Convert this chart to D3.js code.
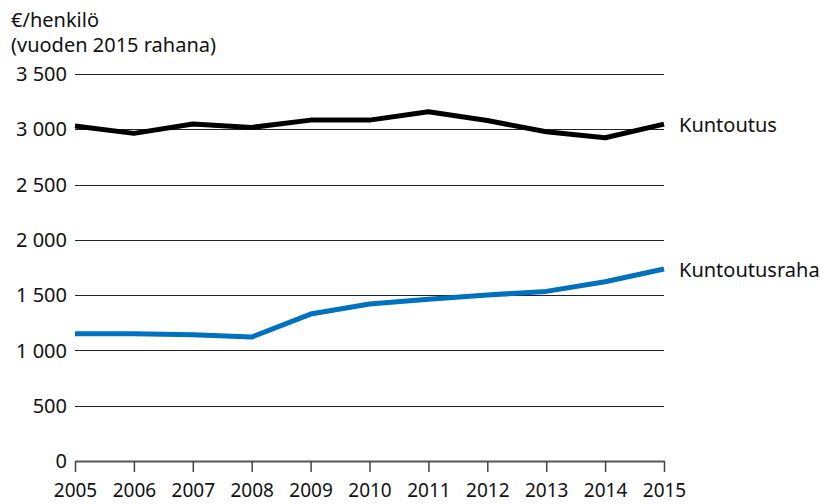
<!DOCTYPE html>
<html>
<head>
<meta charset="utf-8">
<script src="https://cdn.jsdelivr.net/npm/d3@7"></script>
<style>
  body { margin: 0; background: #fff; }
  text { font-family: "Noto Sans", "Open Sans", sans-serif; fill: #111; }
</style>
</head>
<body>
<div id="chart"></div>
<script>
// data
const years = [2005, 2006, 2007, 2008, 2009, 2010, 2011, 2012, 2013, 2014, 2015];
const kuntoutus = [3030, 2963, 3047, 3017, 3083, 3083, 3158, 3080, 2977, 2923, 3047];
const kuntoutusraha = [1151, 1151, 1142, 1121, 1329, 1420, 1462, 1501, 1534, 1621, 1736];
const yTicks = [0, 500, 1000, 1500, 2000, 2500, 3000, 3500];
const titleLines = ["€/henkilö", "(vuoden 2015 rahana)"];

const size = { width: 821, height: 504 };
const margin = { left: 75, right: 157, top: 74, bottom: 43 };

const svg = d3.select("#chart").append("svg")
  .attr("width", size.width)
  .attr("height", size.height);

//scales
const x = d3.scaleLinear()
  .domain([2005, 2015])
  .range([margin.left, size.width - margin.right]);

const y = d3.scaleLinear()
  .domain([0, 3500])
  .range([size.height - margin.bottom, margin.top]);

const fmt = v => d3.format(",")(v).replace(/,/g, " ");

//title
svg.append("g").selectAll("text")
  .data(titleLines)
  .enter().append("text")
    .attr("x", 11)
    .attr("y", (d, i) => 27 + i * 25)
    .attr("font-size", 20)
    .text(d => d);

//gridlines + y labels
const grid = svg.append("g");
grid.selectAll("line")
  .data(yTicks.filter(d => d > 0))
  .enter().append("line")
    .attr("x1", x(2005))
    .attr("x2", x(2015))
    .attr("y1", d => Math.round(y(d)) + 0.5)
    .attr("y2", d => Math.round(y(d)) + 0.5)
    .attr("stroke", "#222")
    .attr("stroke-width", 1);

grid.selectAll("text")
  .data(yTicks)
  .enter().append("text")
    .attr("x", 67)
    .attr("y", d => y(d))
    .attr("dy", "0.36em")
    .attr("text-anchor", "end")
    .attr("font-size", 20)
    .text(fmt);

//x axis
const xAxis = d3.axisBottom(x)
  .tickValues(years)
  .tickFormat(d3.format("d"))
  .tickSize(11)
  .tickPadding(12)
  .tickSizeOuter(0);

const gx = svg.append("g")
  .attr("transform", `translate(0,${y(0)})`)
  .call(xAxis);
gx.select(".domain").attr("stroke", "#555").attr("stroke-width", 2);
gx.selectAll(".tick line").attr("stroke", "#444").attr("stroke-width", 1.5);
gx.selectAll(".tick text")
  .attr("font-size", 19)
  .attr("fill", "#111")
  .attr("font-family", "'Noto Sans', 'Open Sans', sans-serif");

//lines
const line = d3.line()
  .x((d, i) => x(years[i]))
  .y(d => y(d));

const series = [
  { name: "Kuntoutus", values: kuntoutus, color: "#000" },
  { name: "Kuntoutusraha", values: kuntoutusraha, color: "#0071bf" }
];

svg.append("g").selectAll("path")
  .data(series)
  .enter().append("path")
    .attr("d", d => line(d.values))
    .attr("fill", "none")
    .attr("stroke", d => d.color)
    .attr("stroke-width", 5)
    .attr("stroke-linejoin", "round");

svg.append("g").selectAll("text")
  .data(series)
  .enter().append("text")
    .attr("x", x(2015) + 15)
    .attr("y", d => y(d.values[d.values.length - 1]))
    .attr("dy", "0.4em")
    .attr("font-size", 20)
    .text(d => d.name);
</script>
</body>
</html>
